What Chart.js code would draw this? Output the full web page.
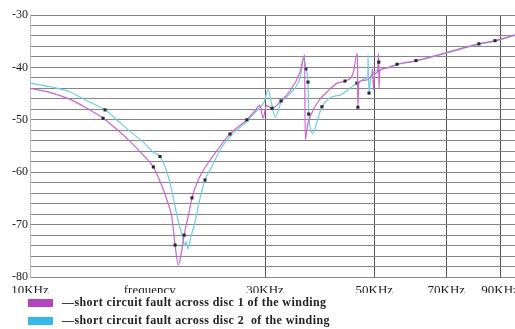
<!DOCTYPE html>
<html><head><meta charset="utf-8">
<script src="https://cdn.jsdelivr.net/npm/chart.js@4"></script>
<style>html,body{margin:0;padding:0;background:#fff}canvas{display:block}</style>
</head><body>
<canvas id="c" width="515" height="329"></canvas>
<script>
// frequency in kHz, response in dB
const freqDisc1 = [10,11,12,13,14.07,15,16,17,17.8,18.5,19.0,19.4,19.7,20.0,20.3,20.55,21.0,21.32,22.0,23.0,24.0,25.47,27.57,28.6,29.3,29.72,30.2,31.0,32.33,33.7,35.3,36.1,36.2,36.6,37.0,38.4,40.6,42.0,43.6,45.25,46.2,46.3,46.5,47.4,49.4,49.6,49.8,50.1,50.8,51.0,51.05,51.1,51.3,52.56,55.6,60.75,68.0,81.5,87.9,96.5];
const dbDisc1 = [-44.0,-44.8,-46.0,-47.7,-49.7,-51.8,-54.2,-56.8,-59.0,-62.5,-65.5,-68.5,-73.9,-77.7,-75.3,-72.0,-68.0,-64.9,-61.3,-58.2,-55.8,-52.7,-50.0,-48.3,-47.2,-49.7,-47.3,-47.8,-46.4,-44.5,-41.0,-37.6,-53.8,-51.0,-49.5,-46.6,-44.2,-43.0,-42.6,-41.2,-37.3,-47.6,-43.0,-42.5,-41.5,-40.3,-44.3,-41.3,-40.8,-37.3,-39.0,-44.0,-40.6,-40.2,-39.4,-38.7,-37.5,-35.5,-34.9,-33.8];
const markDisc1 = [4,8,12,15,17,21,22,27,28,38,41,50,54,55,57,58];

const freqDisc2 = [10,11,12,13,14.2,15,16,17,17.8,18.36,19.0,19.4,19.9,20.4,20.6,20.75,20.93,21.2,21.6,22.1,22.66,23.2,24.3,25.47,27.57,28.62,29.4,29.9,30.42,31.0,31.43,32.33,33.72,35.33,36.0,36.3,36.67,36.8,37.53,38.2,39.14,40.64,42.8,44.6,46.1,47.9,48.5,48.55,48.77,49.2,51.0,52.56,55.6,60.75,68.0,81.5,87.9,96.5];
const dbDisc2 = [-43.0,-43.7,-44.6,-46.3,-48.1,-50.0,-52.3,-54.3,-56.2,-57.0,-60.2,-63.5,-68.5,-72.4,-74.0,-73.3,-74.6,-72.5,-69.7,-65.3,-61.5,-59.6,-55.8,-53.2,-50.3,-48.6,-47.5,-46.5,-44.3,-47.3,-49.5,-46.7,-45.0,-42.0,-38.2,-40.3,-42.8,-48.9,-52.6,-50.5,-47.5,-45.8,-45.2,-44.0,-43.0,-42.2,-41.8,-37.6,-44.9,-41.8,-40.5,-40.2,-39.5,-38.8,-37.6,-35.6,-35.0,-33.9];
const markDisc2 = [4,9,20,35,36,37,40,44,48];

const tickFreqs = [10,17.5,30,50,70,90];
const tickLabels = ['10KHz','frequency','30KHz','50KHz','70KHz','90KHz'];
const gridFreqs = [30,50,70,90];
const seriesLabels = ['\u2014short circuit fault across disc 1 of the winding','\u2014short circuit fault across disc 2  of the winding'];
const lineColors = ['#c865cf','#70cde0'];
const boxColors = ['#b245bd','#35b9e8'];

const legendPlugin = {
  id:'bottomLegend',
  afterDraw(chart){
    const c = chart.ctx;
    const base = chart.chartArea.bottom;
    c.save();
    c.font = 'bold 12px "Liberation Serif"';
    if ('letterSpacing' in c) c.letterSpacing = '0.4px';
    c.textBaseline = 'middle';
    c.textAlign = 'left';
    chart.data.datasets.forEach((ds,i)=>{
      const y = base + 26 + i*18;
      c.fillStyle = boxColors[i];
      c.fillRect(28, y-4, 25, 8);
      c.fillStyle = '#222';
      c.fillText(ds.label, 62, y);
    });
    c.restore();
  }
};

function mk(freqs, dbs, marks, i){
  return {
    label: seriesLabels[i],
    data: freqs.map((f,k)=>({x:f,y:dbs[k]})),
    borderColor: lineColors[i],
    borderWidth: 1.2,
    pointStyle: 'rect',
    pointRadius: ctx => marks.includes(ctx.dataIndex) ? 2.2 : 0,
    pointBackgroundColor: '#2a2a2a',
    pointBorderColor: '#2a2a2a',
    pointBorderWidth: 0,
    cubicInterpolationMode: 'monotone',
    fill: false
  };
}

new Chart(document.getElementById('c'), {
  type: 'line',
  data: { datasets: [ mk(freqDisc1, dbDisc1, markDisc1, 0), mk(freqDisc2, dbDisc2, markDisc2, 1) ] },
  options: {
    responsive: false,
    animation: false,
    layout: { padding: { top: 15, right: 0, bottom: 36, left: 0 } },
    plugins: { legend: { display: false }, tooltip: { enabled: false } },
    scales: {
      x: {
        type: 'logarithmic', min: 10, max: 96.5,
        afterBuildTicks: s => { s.ticks = tickFreqs.map(v => ({ value: v })); },
        afterFit: s => { s.height = 16; s.paddingLeft = 0; s.paddingRight = 0; },
        grid: { color: c => (c.tick && gridFreqs.includes(c.tick.value)) ? '#555' : 'rgba(0,0,0,0)', drawTicks: false, lineWidth: 1 },
        border: { display: false },
        ticks: { autoSkip: false, maxRotation: 0, padding: 6, color: '#1a1a1a',
          font: { family: 'Liberation Serif', size: 13 },
          callback: (v, i) => tickLabels[i] }
      },
      y: {
        min: -80, max: -30,
        afterFit: s => { s.width = 30; s.paddingTop = 0; s.paddingBottom = 0; },
        grid: { color: '#858585', drawTicks: false, lineWidth: 1 },
        border: { color: '#bbb' },
        ticks: { stepSize: 2, autoSkip: false, padding: 2, color: '#1a1a1a',
          font: { family: 'Liberation Serif', size: 12 },
          callback: v => (v % 10 === 0 ? String(v) : '') }
      }
    }
  },
  plugins: [legendPlugin]
});
</script>
</body></html>
